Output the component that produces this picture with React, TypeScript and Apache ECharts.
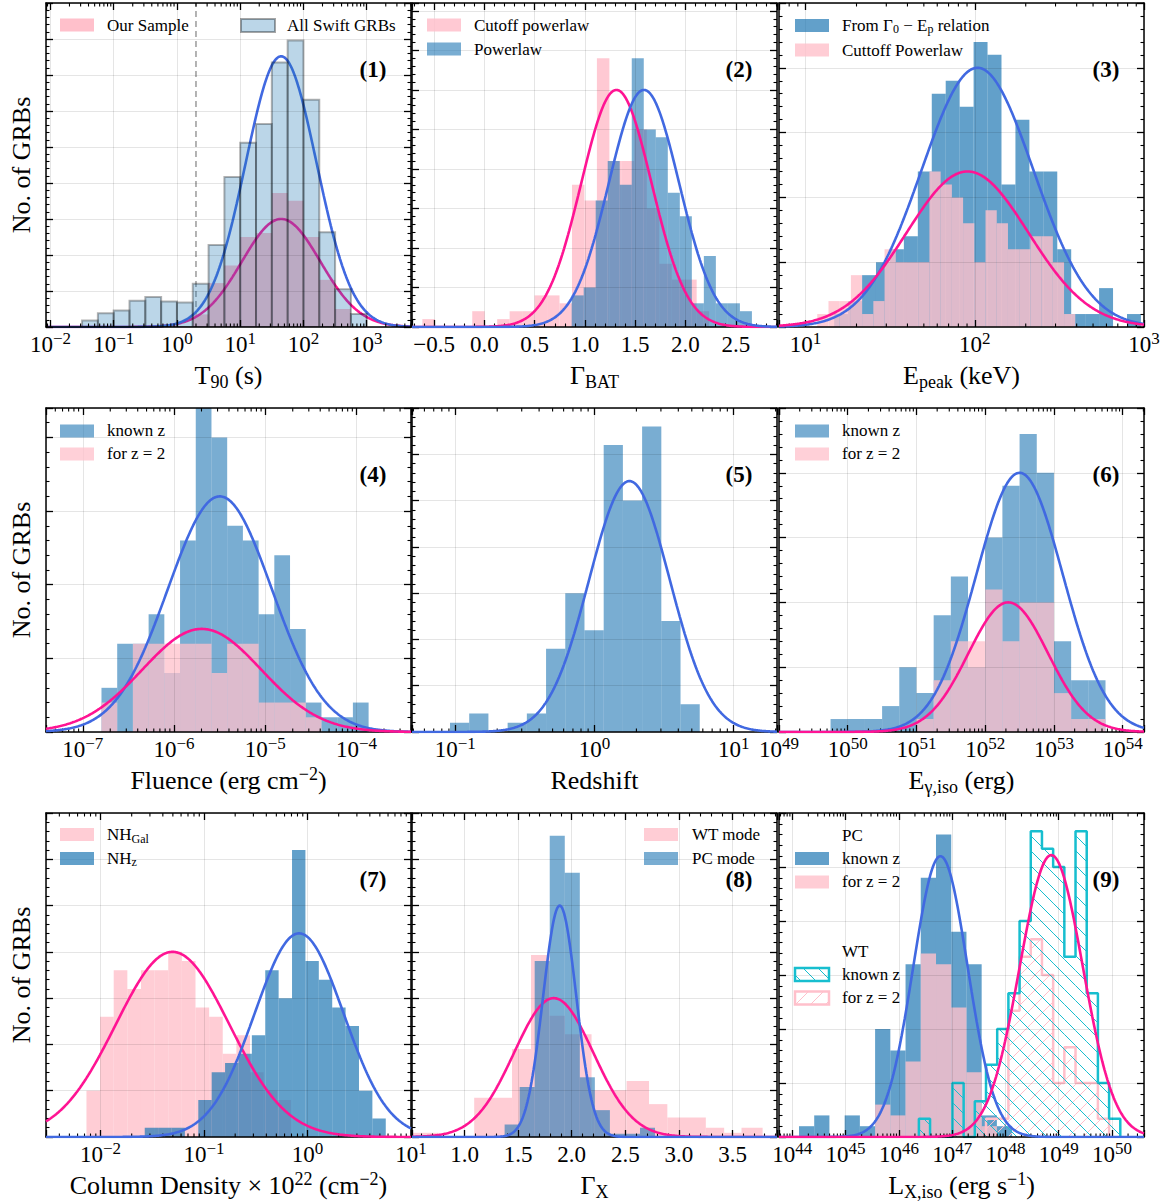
import React, { useEffect, useRef } from 'react';
import * as echarts from 'echarts';

const FONT = '"Liberation Serif", "Times New Roman", serif';

// ---- 3 x 3 panel layout (px) ----
const COL_LEFT = [46, 412, 779];
const ROW_TOP = [3, 408, 813];
const PANEL_W = 365;
const PANEL_H = 324;

// ---- colours ----
const PINK = '#ffc0cb';
const ROYAL = '#4169e1';
const DEEP_PINK = '#ff1493';
const CYAN = '#17becf';
const GRID_LINE = 'rgba(0,0,0,0.1)';
const blueA = (a: number) => `rgba(31,119,180,${a})`;
const pinkA = (a: number) => `rgba(255,192,203,${a})`;

// Fits are [amplitude, mean, sigma]; for log axes mean/sigma are in log10 units.

// (1) T90 [s], log10 bins
const t90Range = [-2.07, 3.7];
const t90Edge0 = -1.5;
const t90Width = 0.25;
const t90AllSwift = [1.8, 3.8, 4.6, 7.3, 8.3, 7.1, 6.8, 12.0, 22.8, 41.7, 51.2, 56.4, 73.5, 79.6, 63.1, 26.3, 10.5, 3.6];
const t90SampleEdge0 = 0.25;
const t90Sample = [3.5, 12.2, 17.1, 25.0, 26.1, 37.2, 35.1, 25.0, 13.1, 5.0];
const t90FitAll = [75.2, 1.647, 0.56];
const t90FitSample = [30.0, 1.647, 0.62];
const t90Cut = 2;

// (2) Gamma_BAT, linear bins
const gbRange = [-0.72, 2.91];
const gbCplEdge0 = -0.617;
const gbCplWidth = 0.124;
const gbCpl = [1, 0, 0, 0, 2, 0, 1, 2, 2, 4, 4, 3, 18, 16, 34, 21, 21, 25, 15, 8, 6, 6, 2];
const gbPlEdge0 = 0.868;
const gbPlWidth = 0.1195;
const gbPl = [4, 5, 16, 21, 18, 34, 25, 24, 17, 14, 3, 9, 3, 3, 2];
const gbFitCpl = [30, 1.313, 0.35];
const gbFitPl = [30, 1.587, 0.35];

// (3) E_peak [keV]
const epRange = [0.843, 3.0];
const epRelEdge0 = 1.169;
const epRelWidth = 0.0824;
const epRel = [1, 2, 4, 5, 6, 7, 12, 18, 19, 17, 22, 21, 11, 16, 12, 12, 6, 1, 1, 3, 0, 1];
const epCplEdge0 = 1.069;
const epCplWidth = 0.0663;
const epCpl = [1, 2, 2, 4, 1, 2, 6, 5, 5, 5, 12, 11, 10, 8, 5, 9, 8, 6, 6, 7, 7, 5, 1];
const epFitRel = [20, 2.016, 0.33];
const epFitCpl = [12, 1.957, 0.36];

// (4) Fluence [erg cm^-2]
const flRange = [-7.403, -3.403];
const flEdge0 = -6.795;
const flWidth = 0.1722;
const flKnown = [3, 6, 6, 8, 4, 13, 22, 20, 14, 13, 8, 12, 7, 2, 1, 1, 2];
const flZ2 = [2, 0, 6, 6, 6, 6, 6, 4, 6, 6, 2, 2, 2, 1, 0, 0, 0];
const flFitKnown = [16, -5.498, 0.57];
const flFitZ2 = [7, -5.696, 0.65];

// (5) Redshift
const zRange = [-1.311, 1.311];
const zEdge0 = -1.038;
const zWidth = 0.138;
const zCounts = [1, 2, 0, 1, 2, 9, 15, 11, 31, 25, 33, 12, 3];
const zFit = [27.1, 0.251, 0.29];

// (6) E_gamma,iso [erg]
const egRange = [49.0, 54.31];
const egEdge0 = 49.75;
const egWidth = 0.25;
const egKnown = [1, 1, 1, 2, 5, 3, 9, 12, 5, 15, 19, 23, 20, 7, 4, 4];
const egZ2Edge0 = 51.0;
const egZ2 = [1, 4, 7, 7, 11, 7, 10, 10, 3, 1, 1];
const egFitKnown = [20, 52.5, 0.63];
const egFitZ2 = [10, 52.335, 0.58];

// (7) Column density [1e22 cm^-2]
const nhRange = [-2.527, 1.0];
const nhGalEdge0 = -2.136;
const nhGalWidth = 0.1317;
const nhGal = [5, 13, 18, 16, 18, 18, 20, 19, 14, 13, 9, 11, 7, 5, 4];
const nhZEdge0 = -1.573;
const nhZWidth = 0.1294;
const nhZ = [1, 1, 1, 0, 4, 7, 8, 9, 11, 18, 15, 31, 19, 17, 14, 12, 5, 2];
const nhFitGal = [20, -1.304, 0.55];
const nhFitZ = [22, -0.081, 0.43];

// (8) Gamma_X, linear
const gxRange = [0.51, 3.915];
const gxWtEdges = [0.51, 0.757, 1.09, 1.443, 1.62, 1.792, 1.935, 2.185, 2.512, 2.721, 2.892, 3.251, 3.422, 3.584, 3.781];
const gxWt = [0.09, 0, 0.85, 1.9, 3.93, 2.62, 2.22, 1.01, 1.21, 0.71, 0.42, 0.2, 0.09, 0.2];
const gxPcEdge0 = 1.374;
const gxPcWidth = 0.1403;
const gxPc = [0.27, 1.08, 3.8, 6.51, 5.71, 1.29, 0.58, 0.07, 0.07, 0.2];
const gxFitWt = [3.0, 1.832, 0.37];
const gxFitPc = [5.0, 1.888, 0.155];

// (9) L_X,iso [erg s^-1]
const lxRange = [43.75, 50.6];
const lxPcEdge0 = 44.125;
const lxPcWidth = 0.2857;
const lxPcKnown = [1, 2, 0, 2, 1, 10, 8, 16, 24, 28, 19, 16, 2, 1];
const lxPcZ2Edge0 = 45.554;
const lxPcZ2 = [3, 2, 7, 17, 16, 12, 6, 1];
const lxWtEdge0 = 46.375;
const lxWtWidth = 0.21;
const lxWtKnown = [1.7, 0, 0, 5, 0, 3.3, 6.7, 10, 13.3, 20, 28.3, 26.7, 25, 16.7, 28.3, 13.3, 5, 1.7];
const lxWtZ2Edge0 = 47.635;
const lxWtZ2 = [1.7, 1.7, 11.7, 16.7, 18.3, 15, 5, 8.3, 5, 5, 1.7];
const lxFitPc = [26, 46.78, 0.51];
const lxFitWt = [26.1, 48.86, 0.59];

const PANELS = [
  { log: true, range: t90Range, ymax: 90, ystep: 10 },
  { log: false, range: gbRange, ymax: 41, ystep: 5 },
  { log: true, range: epRange, ymax: 25, ystep: 5 },
  { log: true, range: flRange, ymax: 22, ystep: 5 },
  { log: true, range: zRange, ymax: 35, ystep: 5 },
  { log: true, range: egRange, ymax: 25, ystep: 5 },
  { log: true, range: nhRange, ymax: 35, ystep: 5 },
  { log: false, range: gxRange, ymax: 7, ystep: 1 },
  { log: true, range: lxRange, ymax: 30, ystep: 5 },
];

const TITLES = [
  '{b|T}{sb|90}{b| (s)}',
  '{b|Γ}{sb|BAT}',
  '{b|E}{sb|peak}{b| (keV)}',
  '{b|Fluence (erg cm}{sp|−2}{b|)}',
  '{b|Redshift}',
  '{b|E}{sb|γ,iso}{b| (erg)}',
  '{b|Column Density × 10}{sp|22}{b| (cm}{sp|−2}{b|)}',
  '{b|Γ}{sb|X}',
  '{b|L}{sb|X,iso}{b| (erg s}{sp|−1}{b|)}',
];

const toX = (log: boolean, v: number) => (log ? Math.pow(10, v) : v);

function uniformRows(log: boolean, edge0: number, width: number, counts: number[]) {
  return counts.map((c, i) => [toX(log, edge0 + i * width), toX(log, edge0 + (i + 1) * width), c]);
}
function edgeRows(log: boolean, edges: number[], counts: number[]) {
  return counts.map((c, i) => [toX(log, edges[i]), toX(log, edges[i + 1]), c]);
}
function stepPoints(rows: number[][]) {
  const pts: number[][] = [[rows[0][0], 0]];
  rows.forEach((r) => {
    pts.push([r[0], r[2]]);
    pts.push([r[1], r[2]]);
  });
  pts.push([rows[rows.length - 1][1], 0]);
  return pts;
}
function gaussPoints(log: boolean, range: number[], fit: number[]) {
  const [A, mu, s] = fit;
  const pts: number[][] = [];
  const n = 360;
  for (let i = 0; i <= n; i++) {
    const t = range[0] + ((range[1] - range[0]) * i) / n;
    pts.push([toX(log, t), A * Math.exp(-0.5 * ((t - mu) / s) ** 2)]);
  }
  return pts;
}

const HATCH_SP = 15;
function hatchLines(L: number, T: number, R: number, B: number, dir: string, color: string) {
  const out: any[] = [];
  if (dir === 'back') {
    const cMin = L - B;
    const cMax = R - T;
    for (let c = Math.ceil(cMin / HATCH_SP) * HATCH_SP; c <= cMax; c += HATCH_SP) {
      const xa = Math.max(L, T + c);
      const xb = Math.min(R, B + c);
      if (xb > xa) out.push({ type: 'line', shape: { x1: xa, y1: xa - c, x2: xb, y2: xb - c }, style: { stroke: color, lineWidth: 1 } });
    }
  } else {
    const cMin = L + T;
    const cMax = R + B;
    for (let c = Math.ceil(cMin / HATCH_SP) * HATCH_SP; c <= cMax; c += HATCH_SP) {
      const xa = Math.max(L, c - B);
      const xb = Math.min(R, c - T);
      if (xb > xa) out.push({ type: 'line', shape: { x1: xa, y1: c - xa, x2: xb, y2: c - xb }, style: { stroke: color, lineWidth: 1 } });
    }
  }
  return out;
}

function barSeries(gi: number, rows: number[][], fill: string, z: number, stroke?: string, lw?: number) {
  return {
    type: 'custom',
    xAxisIndex: 2 * gi,
    yAxisIndex: 2 * gi,
    z,
    clip: true,
    silent: true,
    data: rows,
    encode: { x: [0, 1], y: 2 },
    renderItem: (_p: any, api: any) => {
      const h = api.value(2);
      if (!(h > 0)) return null;
      const a = api.coord([api.value(0), h]);
      const b = api.coord([api.value(1), 0]);
      return {
        type: 'rect',
        shape: { x: a[0], y: a[1], width: b[0] - a[0], height: b[1] - a[1] },
        style: { fill, stroke: stroke || null, lineWidth: lw || 0 },
      };
    },
  };
}

function hatchSeries(gi: number, rows: number[][], color: string, dir: string, z: number) {
  return {
    type: 'custom',
    xAxisIndex: 2 * gi,
    yAxisIndex: 2 * gi,
    z,
    clip: true,
    silent: true,
    data: rows,
    encode: { x: [0, 1], y: 2 },
    renderItem: (_p: any, api: any) => {
      const h = api.value(2);
      if (!(h > 0)) return null;
      const a = api.coord([api.value(0), h]);
      const b = api.coord([api.value(1), 0]);
      return { type: 'group', children: hatchLines(a[0], a[1], b[0], b[1], dir, color) };
    },
  };
}

function lineSeries(gi: number, pts: number[][], color: string, z: number, width = 2.6, dash?: any) {
  return {
    type: 'line',
    xAxisIndex: 2 * gi,
    yAxisIndex: 2 * gi,
    data: pts,
    z,
    silent: true,
    clip: true,
    symbol: 'none',
    showSymbol: false,
    lineStyle: { color, width, type: dash || 'solid' },
  };
}

// log-axis minor ticks (2..9 x 10^n) on bottom and top edges
function logMinorSeries(gi: number, range: number[], ymax: number) {
  const vals: number[][] = [];
  for (let n = Math.floor(range[0]); n <= Math.ceil(range[1]); n++) {
    for (let k = 2; k <= 9; k++) {
      const e = n + Math.log10(k);
      if (e > range[0] && e < range[1]) vals.push([k * Math.pow(10, n), 0]);
    }
  }
  return {
    type: 'custom',
    xAxisIndex: 2 * gi,
    yAxisIndex: 2 * gi,
    z: 12,
    silent: true,
    data: vals,
    encode: { x: 0, y: 1 },
    renderItem: (_p: any, api: any) => {
      const b = api.coord([api.value(0), 0]);
      const t = api.coord([api.value(0), ymax]);
      const st = { stroke: '#000', lineWidth: 1.1 };
      return {
        type: 'group',
        children: [
          { type: 'line', shape: { x1: b[0], y1: b[1], x2: b[0], y2: b[1] - 3.5 }, style: st },
          { type: 'line', shape: { x1: t[0], y1: t[1], x2: t[0], y2: t[1] + 3.5 }, style: st },
        ],
      };
    },
  };
}

function richSet(base: number, small: number) {
  return {
    b: { fontSize: base, fontFamily: FONT, color: '#000', fill: '#000', lineHeight: Math.round(base * 1.2), verticalAlign: 'middle' },
    sb: { fontSize: small, fontFamily: FONT, color: '#000', fill: '#000', lineHeight: Math.round(base * 0.62), verticalAlign: 'bottom' },
    sp: { fontSize: small, fontFamily: FONT, color: '#000', fill: '#000', lineHeight: Math.round(base * 0.55), verticalAlign: 'top' },
  };
}

const TICK_RICH = richSet(23, 17);

function logLabel(v: number) {
  const e = Math.log10(v);
  const n = Math.round(e);
  if (Math.abs(e - n) > 1e-4) return '';
  return `{b|10}{sp|${n < 0 ? '\u2212' + -n : n}}`;
}
function linLabel(v: number) {
  const k = v / 0.5;
  if (Math.abs(k - Math.round(k)) > 1e-6) return '';
  return `{b|${v < -1e-9 ? '\u2212' : ''}${Math.abs(v).toFixed(1)}}`;
}

function textEl(x: number, y: number, text: string, base: number, small: number, align = 'left', extra: any = {}) {
  return {
    type: 'text',
    x,
    y,
    z: 50,
    silent: true,
    ...extra,
    style: {
      text,
      rich: richSet(base, small),
      font: `${base}px ${FONT}`,
      fill: '#000',
      align,
      verticalAlign: 'middle',
      textAlign: align,
      textVerticalAlign: 'middle',
    },
  };
}

function patchEl(x: number, y: number, fill: string, stroke?: string, lw?: number) {
  return {
    type: 'rect',
    z: 50,
    silent: true,
    shape: { x, y, width: 34, height: 13 },
    style: { fill, stroke: stroke || null, lineWidth: lw || 0 },
  };
}

function hatchPatch(x: number, y: number, color: string, dir: string) {
  return [
    { type: 'group', z: 50, silent: true, children: hatchLines(x, y, x + 34, y + 13, dir, color) },
    { type: 'rect', z: 50, silent: true, shape: { x, y, width: 34, height: 13 }, style: { fill: 'none', stroke: color, lineWidth: 2.5 } },
  ];
}

function buildOption() {
  const grid: any[] = [];
  const xAxis: any[] = [];
  const yAxis: any[] = [];
  const series: any[] = [];
  const graphic: any[] = [];

  PANELS.forEach((p, i) => {
    grid.push({
      left: COL_LEFT[i % 3],
      top: ROW_TOP[Math.floor(i / 3)],
      width: PANEL_W,
      height: PANEL_H,
      containLabel: false,
      outerBoundsMode: 'none',
      show: false,
    });
    const lo = toX(p.log, p.range[0]);
    const hi = toX(p.log, p.range[1]);
    const xCommon = () => {
      const o: any = {
        gridIndex: i,
        type: p.log ? 'log' : 'value',
        min: lo,
        max: hi,
        z: 10,
        axisLine: { show: true, onZero: false, lineStyle: { color: '#000', width: 1.5 } },
        axisTick: { show: true, inside: true, length: 7, lineStyle: { color: '#000', width: 1.3 } },
        minorTick: { show: !p.log, splitNumber: 5, length: 3.5, lineStyle: { color: '#000', width: 1.1 } },
      };
      if (p.log) o.logBase = 10;
      else o.splitNumber = 7;
      return o;
    };
    xAxis.push({
      ...xCommon(),
      position: 'bottom',
      splitLine: { show: true, lineStyle: { color: GRID_LINE, width: 1 } },
      axisLabel: { show: true, margin: 3, formatter: p.log ? logLabel : linLabel, rich: TICK_RICH },
    });
    xAxis.push({ ...xCommon(), position: 'top', splitLine: { show: false }, axisLabel: { show: false } });

    const yCommon = () => ({
      gridIndex: i,
      type: 'value',
      min: 0,
      max: p.ymax,
      interval: p.ystep,
      z: 10,
      axisLine: { show: true, onZero: false, lineStyle: { color: '#000', width: 1.5 } },
      axisTick: { show: true, inside: true, length: 7, lineStyle: { color: '#000', width: 1.3 } },
      minorTick: { show: true, splitNumber: 5, length: 3.5, lineStyle: { color: '#000', width: 1.1 } },
      axisLabel: { show: false },
    });
    yAxis.push({ ...yCommon(), position: 'left', splitLine: { show: true, lineStyle: { color: GRID_LINE, width: 1 } } });
    yAxis.push({ ...yCommon(), position: 'right', splitLine: { show: false } });

    if (p.log) series.push(logMinorSeries(i, p.range, p.ymax));

    const cx = COL_LEFT[i % 3] + PANEL_W / 2;
    const rowTop = ROW_TOP[Math.floor(i / 3)];
    graphic.push(textEl(cx, rowTop + 372, TITLES[i], 26, 18, 'center'));
    graphic.push({
      type: 'text',
      x: COL_LEFT[i % 3] + 327,
      y: rowTop + 66,
      z: 50,
      silent: true,
      style: {
        text: `(${i + 1})`,
        font: `bold 23px ${FONT}`,
        fill: '#000',
        align: 'center',
        verticalAlign: 'middle',
        textAlign: 'center',
        textVerticalAlign: 'middle',
      },
    });
    if (i % 3 === 0) {
      graphic.push(textEl(21, rowTop + PANEL_H / 2, '{b|No. of GRBs}', 26, 18, 'center', { rotation: Math.PI / 2 }));
    }
  });

  // (1) T90
  const t90Log = true;
  series.push(lineSeries(0, [[t90Cut, 0], [t90Cut, 90]], '#9a9a9a', 1, 1.5, [6, 4]));
  series.push(barSeries(0, uniformRows(t90Log, t90SampleEdge0, t90Width, t90Sample), PINK, 2));
  series.push(lineSeries(0, gaussPoints(t90Log, t90Range, t90FitSample), DEEP_PINK, 3));
  series.push(lineSeries(0, gaussPoints(t90Log, t90Range, t90FitAll), ROYAL, 3));
  series.push(barSeries(0, uniformRows(t90Log, t90Edge0, t90Width, t90AllSwift), blueA(0.3), 4, 'rgba(0,0,0,0.3)', 2));

  // (2) Gamma_BAT
  series.push(barSeries(1, uniformRows(false, gbCplEdge0, gbCplWidth, gbCpl), pinkA(0.85), 2));
  series.push(barSeries(1, uniformRows(false, gbPlEdge0, gbPlWidth, gbPl), blueA(0.6), 3));
  series.push(lineSeries(1, gaussPoints(false, gbRange, gbFitCpl), DEEP_PINK, 15));
  series.push(lineSeries(1, gaussPoints(false, gbRange, gbFitPl), ROYAL, 15));

  // (3) E_peak
  series.push(barSeries(2, uniformRows(true, epRelEdge0, epRelWidth, epRel), blueA(0.7), 2));
  series.push(barSeries(2, uniformRows(true, epCplEdge0, epCplWidth, epCpl), pinkA(0.8), 3));
  series.push(lineSeries(2, gaussPoints(true, epRange, epFitRel), ROYAL, 15));
  series.push(lineSeries(2, gaussPoints(true, epRange, epFitCpl), DEEP_PINK, 15));

  // (4) Fluence
  series.push(barSeries(3, uniformRows(true, flEdge0, flWidth, flKnown), blueA(0.6), 2));
  series.push(barSeries(3, uniformRows(true, flEdge0, flWidth, flZ2), pinkA(0.75), 3));
  series.push(lineSeries(3, gaussPoints(true, flRange, flFitKnown), ROYAL, 15));
  series.push(lineSeries(3, gaussPoints(true, flRange, flFitZ2), DEEP_PINK, 15));

  // (5) Redshift
  series.push(barSeries(4, uniformRows(true, zEdge0, zWidth, zCounts), blueA(0.6), 2));
  series.push(lineSeries(4, gaussPoints(true, zRange, zFit), ROYAL, 15));

  // (6) E_gamma,iso
  series.push(barSeries(5, uniformRows(true, egEdge0, egWidth, egKnown), blueA(0.6), 2));
  series.push(barSeries(5, uniformRows(true, egZ2Edge0, egWidth, egZ2), pinkA(0.75), 3));
  series.push(lineSeries(5, gaussPoints(true, egRange, egFitKnown), ROYAL, 15));
  series.push(lineSeries(5, gaussPoints(true, egRange, egFitZ2), DEEP_PINK, 15));

  // (7) Column density
  series.push(barSeries(6, uniformRows(true, nhGalEdge0, nhGalWidth, nhGal), pinkA(0.8), 2));
  series.push(barSeries(6, uniformRows(true, nhZEdge0, nhZWidth, nhZ), blueA(0.7), 3));
  series.push(lineSeries(6, gaussPoints(true, nhRange, nhFitGal), DEEP_PINK, 15));
  series.push(lineSeries(6, gaussPoints(true, nhRange, nhFitZ), ROYAL, 15));

  // (8) Gamma_X
  series.push(barSeries(7, edgeRows(false, gxWtEdges, gxWt), pinkA(0.8), 2));
  series.push(barSeries(7, uniformRows(false, gxPcEdge0, gxPcWidth, gxPc), blueA(0.6), 3));
  series.push(lineSeries(7, gaussPoints(false, gxRange, gxFitWt), DEEP_PINK, 15));
  series.push(lineSeries(7, gaussPoints(false, gxRange, gxFitPc), ROYAL, 15));

  // (9) L_X,iso
  const wtKnownRows = uniformRows(true, lxWtEdge0, lxWtWidth, lxWtKnown);
  const wtZ2Rows = uniformRows(true, lxWtZ2Edge0, lxWtWidth, lxWtZ2);
  series.push(barSeries(8, uniformRows(true, lxPcEdge0, lxPcWidth, lxPcKnown), blueA(0.7), 2));
  series.push(barSeries(8, uniformRows(true, lxPcZ2Edge0, lxPcWidth, lxPcZ2), pinkA(0.8), 3));
  series.push(hatchSeries(8, wtZ2Rows, PINK, 'fwd', 4));
  series.push(lineSeries(8, stepPoints(wtZ2Rows), PINK, 5, 2.5));
  series.push(hatchSeries(8, wtKnownRows, CYAN, 'back', 6));
  series.push(lineSeries(8, stepPoints(wtKnownRows), CYAN, 7, 2.5));
  series.push(lineSeries(8, gaussPoints(true, lxRange, lxFitPc), ROYAL, 15));
  series.push(lineSeries(8, gaussPoints(true, lxRange, lxFitWt), DEEP_PINK, 15));

  // ---- legends ----
  const lg = (x: number, y: number, t: string) => textEl(x, y, t, 17, 12, 'left');
  // (1)
  graphic.push(patchEl(60, 18.5, PINK), lg(107, 25, '{b|Our Sample}'));
  graphic.push(patchEl(241, 19, blueA(0.3), 'rgba(0,0,0,0.35)', 2), lg(287, 25, '{b|All Swift GRBs}'));
  // (2)
  graphic.push(patchEl(427, 18.5, pinkA(0.85)), lg(474, 25, '{b|Cutoff powerlaw}'));
  graphic.push(patchEl(427, 42.5, blueA(0.6)), lg(474, 49, '{b|Powerlaw}'));
  // (3)
  graphic.push(patchEl(795, 19, blueA(0.7)), lg(842, 25, '{b|From Γ}{sb|0}{b| − E}{sb|p}{b| relation}'));
  graphic.push(patchEl(795, 43.5, pinkA(0.8)), lg(842, 50, '{b|Cuttoff Powerlaw}'));
  // (4)
  graphic.push(patchEl(60, 424.5, blueA(0.6)), lg(107, 430.5, '{b|known z}'));
  graphic.push(patchEl(60, 447.5, pinkA(0.75)), lg(107, 453.5, '{b|for z = 2}'));
  // (6)
  graphic.push(patchEl(795, 424.5, blueA(0.6)), lg(842, 430.5, '{b|known z}'));
  graphic.push(patchEl(795, 447.5, pinkA(0.75)), lg(842, 453.5, '{b|for z = 2}'));
  // (7)
  graphic.push(patchEl(60, 828, pinkA(0.8)), lg(107, 834.5, '{b|NH}{sb|Gal}'));
  graphic.push(patchEl(60, 852, blueA(0.7)), lg(107, 858, '{b|NH}{sb|z}'));
  // (8)
  graphic.push(patchEl(644, 828, pinkA(0.8)), lg(692, 834.5, '{b|WT mode}'));
  graphic.push(patchEl(644, 852, blueA(0.6)), lg(692, 858, '{b|PC mode}'));
  // (9)
  graphic.push(lg(842, 835, '{b|PC}'));
  graphic.push(patchEl(795, 852, blueA(0.7)), lg(842, 858, '{b|known z}'));
  graphic.push(patchEl(795, 875.5, pinkA(0.8)), lg(842, 881.5, '{b|for z = 2}'));
  graphic.push(lg(842, 951, '{b|WT}'));
  graphic.push(...hatchPatch(795, 968, CYAN, 'back'), lg(842, 974, '{b|known z}'));
  graphic.push(...hatchPatch(795, 991.5, PINK, 'fwd'), lg(842, 997.5, '{b|for z = 2}'));

  return {
    animation: false,
    backgroundColor: '#ffffff',
    textStyle: { fontFamily: FONT },
    grid,
    xAxis,
    yAxis,
    series,
    graphic: { elements: graphic },
  };
}

export default function App() {
  const ref = useRef<HTMLDivElement>(null);
  useEffect(() => {
    if (!ref.current) return;
    const chart = echarts.init(ref.current, null, { renderer: 'svg' });
    chart.setOption(buildOption() as any);
    return () => chart.dispose();
  }, []);
  return (
    <div
      ref={ref}
      style={{ position: 'absolute', left: 0, top: 0, width: 1169, height: 1204, background: '#fff' }}
    />
  );
}
